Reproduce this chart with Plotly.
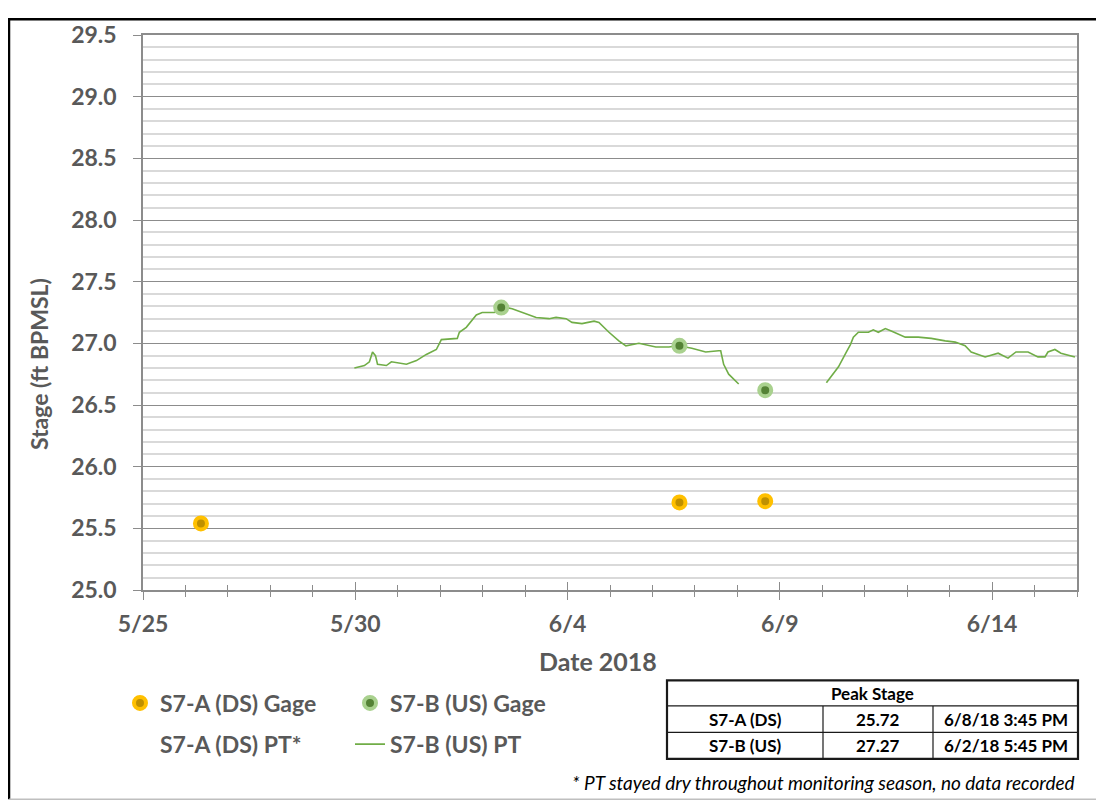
import plotly.graph_objects as go

# ---------------- data ----------------
gage_a_time = ["2018-05-26 08:45", "2018-06-06 15:15", "2018-06-08 15:45"]
gage_a_stage = [25.54, 25.71, 25.72]

gage_b_time = ["2018-06-02 10:30", "2018-06-06 15:15", "2018-06-08 15:45"]
gage_b_stage = [27.29, 26.98, 26.62]

pt_b_time = [
    "2018-05-29 23:30", "2018-05-30 05:10", "2018-05-30 08:00", "2018-05-30 09:45",
    "2018-05-30 11:25", "2018-05-30 12:35", "2018-05-30 17:35", "2018-05-30 20:25",
    "2018-05-31 04:55", "2018-05-31 10:35", "2018-05-31 16:10", "2018-05-31 21:50",
    "2018-06-01 00:40", "2018-06-01 09:40", "2018-06-01 10:50", "2018-06-01 14:45",
    "2018-06-01 20:25", "2018-06-01 23:45", "2018-06-02 06:35", "2018-06-02 13:20",
    "2018-06-02 16:40", "2018-06-02 22:20", "2018-06-03 06:15", "2018-06-03 13:35",
    "2018-06-03 17:30", "2018-06-03 23:10", "2018-06-04 02:30", "2018-06-04 08:10",
    "2018-06-04 15:00", "2018-06-04 17:45", "2018-06-04 23:25", "2018-06-05 05:00",
    "2018-06-05 09:00", "2018-06-05 16:20", "2018-06-05 20:15", "2018-06-06 01:55",
    "2018-06-06 09:15", "2018-06-06 14:55", "2018-06-06 22:15", "2018-06-07 06:05",
    "2018-06-07 13:25", "2018-06-07 14:35", "2018-06-07 16:15", "2018-06-07 19:05",
    "2018-06-08 00:45",
    "2018-06-09 00:00",
    "2018-06-10 02:20", "2018-06-10 09:10", "2018-06-10 13:40", "2018-06-10 15:55",
    "2018-06-10 17:35", "2018-06-10 20:25", "2018-06-11 02:05", "2018-06-11 04:50",
    "2018-06-11 07:40", "2018-06-11 11:40", "2018-06-11 15:00", "2018-06-11 22:55",
    "2018-06-12 06:15", "2018-06-12 13:35", "2018-06-12 21:30", "2018-06-13 03:10",
    "2018-06-13 08:45", "2018-06-13 12:10", "2018-06-13 20:05", "2018-06-14 03:25",
    "2018-06-14 09:00", "2018-06-14 13:30", "2018-06-14 20:20", "2018-06-15 01:55",
    "2018-06-15 05:55", "2018-06-15 07:35", "2018-06-15 11:30", "2018-06-15 14:55",
    "2018-06-15 22:50",
]
pt_b_stage = [
    26.80, 26.82, 26.85, 26.93,
    26.90, 26.83, 26.82, 26.85,
    26.83, 26.86, 26.91, 26.95,
    27.03, 27.04, 27.09, 27.13,
    27.23, 27.25, 27.25, 27.29,
    27.28, 27.25, 27.21, 27.20,
    27.21, 27.20, 27.17, 27.16,
    27.18, 27.17, 27.09, 27.02,
    26.98, 27.00, 26.99, 26.97,
    26.97, 26.98, 26.96, 26.93,
    26.94, 26.94, 26.83, 26.75,
    26.67,
    None,
    26.68, 26.81, 26.93, 26.99,
    27.05, 27.09, 27.09, 27.11,
    27.09, 27.12, 27.10, 27.05,
    27.05, 27.04, 27.02, 27.01,
    26.98, 26.93, 26.89, 26.92,
    26.88, 26.93, 26.93, 26.89,
    26.89, 26.93, 26.95, 26.92,
    26.89,
]

legend_names = ["S7-A (DS) Gage", "S7-B (US) Gage", "S7-A (DS) PT*", "S7-B (US) PT"]

table_title = "Peak Stage"
table_sites = ["S7-A (DS)", "S7-B (US)"]
table_peaks = ["25.72", "27.27"]
table_times = ["6/8/18 3:45 PM", "6/2/18 5:45 PM"]

footnote = "* PT stayed dry throughout monitoring season, no data recorded"
x_title = "Date 2018"
y_title = "Stage (ft BPMSL)"

# ---------------- layout geometry ----------------
# the page body adds an 8px margin, so the figure is shifted by 8px
W, H = 1104, 805
L, R, T, B = 135, 35, 17, 223
PW, PH = W - L - R, H - T - B
OFF = 8


def px(x):  # x in screen pixels -> paper
    return (x - OFF - L) / PW


def py(y):  # y in screen pixels -> paper
    return (H - B - (y - OFF)) / PH


TXT = "#595959"
FONT = "Lato"
AX = "#8C8C8C"

fig = go.Figure()

fig.add_trace(go.Scatter(
    x=pt_b_time, y=pt_b_stage, mode="lines", name=legend_names[3],
    line=dict(color="#70AD47", width=1.6), connectgaps=False, legend="legend4",
))
fig.add_trace(go.Scatter(
    x=[None], y=[None], mode="lines", name=legend_names[2],
    line=dict(color="rgba(0,0,0,0)", width=0), legend="legend3",
))
fig.add_trace(go.Scatter(
    x=gage_a_time, y=gage_a_stage, mode="markers", name=legend_names[0],
    marker=dict(size=12, color="#BF9000", line=dict(color="#FFC000", width=4)),
    legend="legend",
))
fig.add_trace(go.Scatter(
    x=gage_b_time, y=gage_b_stage, mode="markers", name=legend_names[1],
    marker=dict(size=12, color="#548235", line=dict(color="#A9D18E", width=4)),
    legend="legend2",
))
# dummy trace for the overlaid axis carrying the inside half of the cross ticks
fig.add_trace(go.Scatter(x=[], y=[], xaxis="x2", showlegend=False, hoverinfo="skip"))

legend_font = dict(family=FONT, size=23, color=TXT, weight="bold")


def leg(xp, yp):
    return dict(x=px(xp), y=py(yp), xanchor="left", yanchor="middle",
                orientation="h", bgcolor="rgba(0,0,0,0)", borderwidth=0,
                font=legend_font, traceorder="normal", itemsizing="trace")


shapes = []
annotations = []

# outer frame
shapes.append(dict(type="path", xref="paper", yref="paper",
                   path=f"M {px(9)},{py(803)} L {px(9)},{py(9)} L {px(1120)},{py(9)}",
                   line=dict(color="#000000", width=2.5)))
shapes.append(dict(type="line", xref="paper", yref="paper",
                   x0=px(9), x1=px(1120), y0=py(803), y1=py(803),
                   line=dict(color="#BFBFBF", width=1.5)))

# table
tx = [667, 823, 933, 1078]
ty = [682, 708, 735, 762]
shapes.append(dict(type="rect", xref="paper", yref="paper",
                   x0=px(tx[0]), x1=px(tx[3]), y0=py(ty[0]), y1=py(ty[3]),
                   line=dict(color="#1A1A1A", width=2.2)))
for yy in ty[1:3]:
    shapes.append(dict(type="line", xref="paper", yref="paper",
                       x0=px(tx[0]), x1=px(tx[3]), y0=py(yy), y1=py(yy),
                       line=dict(color="#1A1A1A", width=1.2)))
for xx in tx[1:3]:
    shapes.append(dict(type="line", xref="paper", yref="paper",
                       x0=px(xx), x1=px(xx), y0=py(ty[1]), y1=py(ty[3]),
                       line=dict(color="#1A1A1A", width=1.2)))

tfont = dict(family=FONT, size=17, color="#000000")
annotations.append(dict(xref="paper", yref="paper", x=px((tx[0] + tx[3]) / 2),
                        y=py((ty[0] + ty[1]) / 2), text=f"<b>{table_title}</b>",
                        showarrow=False, font=tfont, xanchor="center", yanchor="middle"))
for i in range(2):
    yc = py((ty[i + 1] + ty[i + 2]) / 2)
    for j, val in enumerate([table_sites[i], table_peaks[i], table_times[i]]):
        annotations.append(dict(xref="paper", yref="paper", x=px((tx[j] + tx[j + 1]) / 2),
                                y=yc, text=f"<b>{val}</b>", showarrow=False, font=tfont,
                                xanchor="center", yanchor="middle"))

# footnote
annotations.append(dict(xref="paper", yref="paper", x=px(1077), y=py(786),
                        text=f"<i>{footnote}</i>", showarrow=False,
                        font=dict(family=FONT, size=19, color="#000000"),
                        xanchor="right", yanchor="middle"))

# axis titles
annotations.append(dict(xref="paper", yref="paper", x=px(598), y=py(662),
                        text=f"<b>{x_title}</b>", showarrow=False,
                        font=dict(family=FONT, size=25, color=TXT),
                        xanchor="center", yanchor="middle"))
annotations.append(dict(xref="paper", yref="paper", x=px(39), y=py(360),
                        text=f"<b>{y_title}</b>", showarrow=False, textangle=-90,
                        font=dict(family=FONT, size=23, color=TXT),
                        xanchor="center", yanchor="middle"))

tickfont = dict(family=FONT, size=23, color=TXT, weight="bold")
DAY = 86400000
fig.update_layout(
    width=W, height=H,
    margin=dict(l=L, r=R, t=T, b=B, pad=0),
    paper_bgcolor="white", plot_bgcolor="white",
    showlegend=True,
    legend=leg(120, 705),
    legend2=leg(350, 705),
    legend3=leg(120, 747),
    legend4=leg(350, 747),
    shapes=shapes,
    annotations=annotations,
    xaxis=dict(
        type="date", range=["2018-05-25", "2018-06-16"],
        tick0="2018-05-25", dtick=5 * DAY, tickformat="%-m/%-d",
        ticks="outside", ticklen=8, tickwidth=1.3, tickcolor=AX,
        minor=dict(dtick=DAY, tick0="2018-05-25", ticks="outside", ticklen=5,
                   tickwidth=1.3, tickcolor=AX, showgrid=False),
        showgrid=False, zeroline=False,
        showline=True, linecolor=AX, linewidth=1.5, mirror=True,
        tickfont=tickfont,
        ticklabelstandoff=5,
    ),
    xaxis2=dict(
        type="date", matches="x", overlaying="x", anchor="y",
        tick0="2018-05-25", dtick=5 * DAY,
        ticks="inside", ticklen=8, tickwidth=1.3, tickcolor=AX,
        minor=dict(dtick=DAY, tick0="2018-05-25", ticks="inside", ticklen=5,
                   tickwidth=1.3, tickcolor=AX, showgrid=False),
        showgrid=False, zeroline=False, showticklabels=False, showline=False,
    ),
    yaxis=dict(
        range=[25, 29.5], dtick=0.5, tick0=25, tickformat=".1f",
        ticks="outside", ticklen=8, tickwidth=1.3, tickcolor=AX,
        showgrid=True, gridcolor="#8C8C8C", gridwidth=1,
        minor=dict(dtick=0.1, tick0=25, showgrid=True, gridcolor="#D9D9D9", gridwidth=1.6),
        zeroline=False,
        showline=True, linecolor=AX, linewidth=1.5, mirror=True,
        tickfont=tickfont,
        ticklabelstandoff=12,
    ),
)

fig.write_html("out.html")
